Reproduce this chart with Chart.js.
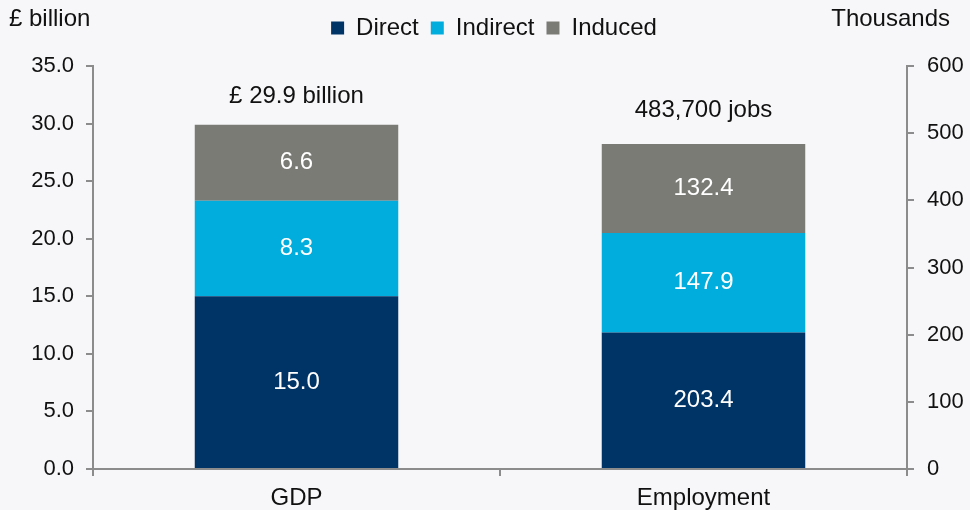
<!DOCTYPE html>
<html>
<head>
<meta charset="utf-8">
<script src="https://cdn.jsdelivr.net/npm/chart.js@4"></script>
<style>
  html, body { margin: 0; padding: 0; background: #f7f7fa; }
  #wrap { position: relative; width: 970px; height: 510px; }
  .unit { position: absolute; top: 4px; font: 24px "Liberation Sans", Arial, sans-serif; color: #111; }
</style>
</head>
<body>
<div id="wrap">
  <canvas id="impactChart" width="970" height="510"></canvas>
  <div class="unit" style="left:9px">£ billion</div>
  <div class="unit" style="right:20px">Thousands</div>
</div>
<script>
const categories = ['GDP', 'Employment'];
const seriesNames = ['Direct', 'Indirect', 'Induced'];
const seriesColors = ['#003366', '#00addc', '#7b7b76'];
// GDP in £ billion (left axis), employment in thousands (right axis)
const gdpValues = [15.0, 8.3, 6.6];
const jobValues = [203.4, 147.9, 132.4];
const totalLabels = ['£ 29.9 billion', '483,700 jobs'];
const leftTicks = [0, 5, 10, 15, 20, 25, 30, 35];
const rightTicks = [0, 100, 200, 300, 400, 500, 600];

const FONT = '"Liberation Sans", Arial, sans-serif';
const AXIS = '#8c8c8c';
const totalOffsets = [28, 34];

const datasets = [];
seriesNames.forEach(function (name, i) {
  datasets.push({
    label: name, data: [gdpValues[i], null], yAxisID: 'y',
    backgroundColor: seriesColors[i], stack: 's', barPercentage: 0.5, categoryPercentage: 1
  });
});
seriesNames.forEach(function (name, i) {
  datasets.push({
    label: name, data: [null, jobValues[i]], yAxisID: 'y1',
    backgroundColor: seriesColors[i], stack: 's', barPercentage: 0.5, categoryPercentage: 1
  });
});

const labelPlugin = {
  id: 'barLabels',
  afterDatasetsDraw(chart) {
    const ctx = chart.ctx;
    ctx.save();
    ctx.font = '24px ' + FONT;
    ctx.textAlign = 'center';
    ctx.textBaseline = 'middle';
    const tops = {};
    chart.data.datasets.forEach(function (ds, di) {
      const meta = chart.getDatasetMeta(di);
      meta.data.forEach(function (bar, idx) {
        const v = ds.data[idx];
        if (v == null) return;
        ctx.fillStyle = '#ffffff';
        ctx.fillText(v.toFixed(1), bar.x, (bar.y + bar.base) / 2);
        if (tops[idx] == null || bar.y < tops[idx].y) tops[idx] = { x: bar.x, y: bar.y };
      });
    });
    ctx.fillStyle = '#111';
    Object.keys(tops).forEach(function (idx) {
      ctx.fillText(totalLabels[idx], tops[idx].x, tops[idx].y - totalOffsets[idx]);
    });
    ctx.restore();
  }
};

const legendSpace = {
  id: 'legendSpace',
  beforeInit(chart) {
    const orig = chart.legend.fit;
    chart.legend.fit = function () {
      orig.call(this);
      this.height += 16;
    };
  }
};

new Chart(document.getElementById('impactChart'), {
  type: 'bar',
  data: { labels: categories, datasets: datasets },
  plugins: [labelPlugin, legendSpace],
  options: {
    responsive: false,
    animation: false,
    layout: { padding: { top: 4, right: 0, left: 18, bottom: 0 } },
    plugins: {
      tooltip: { enabled: false },
      legend: {
        position: 'top',
        labels: {
          filter: function (item) { return item.datasetIndex < 3; },
          boxWidth: 13, boxHeight: 13, padding: 12,
          color: '#111', font: { size: 24, family: FONT }
        }
      }
    },
    scales: {
      x: {
        stacked: true,
        grid: { display: true, drawOnChartArea: false, drawTicks: true, tickLength: 7, color: AXIS, lineWidth: 2, offset: true },
        border: { display: true, color: AXIS, width: 2 },
        ticks: { color: '#111', font: { size: 24, family: FONT }, padding: 8 },
        afterFit: function (s) { s.height = 41; }
      },
      y: {
        stacked: true, position: 'left', min: 0, max: 35,
        afterBuildTicks: function (s) { s.ticks = leftTicks.map(function (v) { return { value: v }; }); },
        grid: { drawOnChartArea: false, drawTicks: true, tickLength: 7, color: AXIS, lineWidth: 2 },
        border: { display: true, color: AXIS, width: 2 },
        ticks: { color: '#111', font: { size: 22, family: FONT }, padding: 12,
          callback: function (v) { return Number(v).toFixed(1); } },
        afterFit: function (s) { s.width = 75; }
      },
      y1: {
        stacked: true, position: 'right', min: 0, max: 600,
        afterBuildTicks: function (s) { s.ticks = rightTicks.map(function (v) { return { value: v }; }); },
        grid: { drawOnChartArea: false, drawTicks: true, tickLength: 7, color: AXIS, lineWidth: 2 },
        border: { display: true, color: AXIS, width: 2 },
        ticks: { color: '#111', font: { size: 22, family: FONT }, padding: 13 },
        afterFit: function (s) { s.width = 63; }
      }
    }
  }
});
</script>
</body>
</html>
